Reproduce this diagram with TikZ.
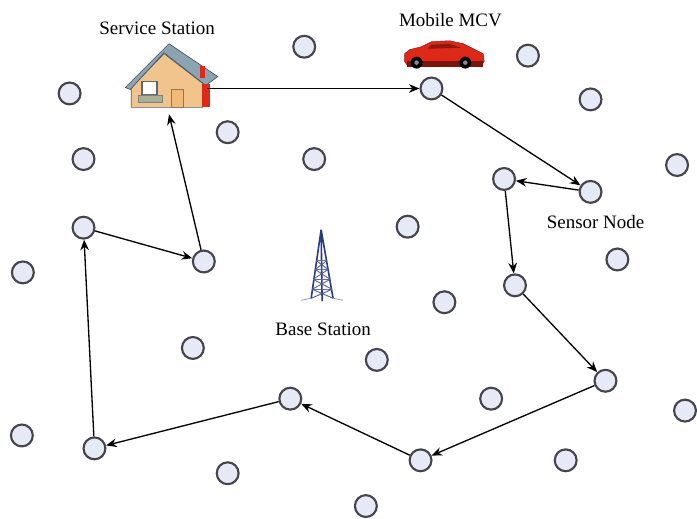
\documentclass[tikz,border=0pt]{standalone}
\usepackage{fontspec}
\setmainfont{Liberation Serif}
\newfontfamily\capfont{Liberation Serif}
\usetikzlibrary{arrows.meta}

\definecolor{nodefill}{RGB}{230,234,247}
\definecolor{nodeedge}{RGB}{68,68,74}
\definecolor{roofblue}{RGB}{140,164,178}
\definecolor{walltan}{RGB}{240,196,140}
\definecolor{carred}{RGB}{222,40,24}
\definecolor{towerblue}{RGB}{40,58,130}

\tikzset{
  sensor/.style={circle, draw=nodeedge, fill=nodefill, line width=1.6pt, inner sep=0pt, minimum size=16.5pt},
  hop/.style={-{Stealth[length=8pt,width=6.5pt]}, line width=1pt, black},
  caption/.style={anchor=base, font=\capfont\fontsize{14.3}{16}\selectfont, text=black}
}

\begin{document}
\begin{tikzpicture}[x=0.75pt,y=0.75pt,yscale=-1,xscale=1]
\path (0,0) rectangle (697,519);

%House (service station)
\draw [roofblue!60!black, fill=walltan, line width=0.5] (132,88) -- (165,54) -- (204,84) -- (204,108) -- (132,108) -- cycle ;
\draw [roofblue!50!black, fill=roofblue, line width=0.5] (126,88) -- (170,44) -- (219,77) -- (207,86) -- (165,53) -- (131,90) -- cycle ;
\fill [carred] (203,84) rectangle (211,108) ;
\fill [carred] (201,66) rectangle (206,78) ;
\draw [black!60, fill=white, line width=1.2] (143,82) rectangle (158,95) ;
\draw [black!50, fill={rgb,255:red,170;green,176;blue,150}, line width=0.8] (139,96) rectangle (163,103) ;
\draw [walltan!60!black, fill=walltan!85!orange, line width=0.6] (172,90) rectangle (184,108) ;
\coordinate (svcout) at (208,89) ;
\coordinate (svcin) at (170,115) ;

%Car (mobile charging vehicle)
\draw [carred!70!black, fill=carred, line width=0.4] (407,62) -- (407,54) -- (412,50) -- (424,47) -- (434,42) -- (452,41) -- (466,44) -- (478,50) -- (486,54) -- (487,62) -- (484,66) -- (410,66) -- cycle ;
\fill [carred!40!black, opacity=0.6] (434,45) -- (452,44) -- (464,48) -- (430,49) -- cycle ;
\fill [carred!55!black] (409,61) rectangle (486,67) ;
\fill [black] (419,63) circle [radius=6] ;
\fill [black] (468,63) circle [radius=6] ;
\fill [black!45] (419,63) circle [radius=2.3] ;
\fill [black!45] (468,63) circle [radius=2.3] ;

%Tower (base station)
\draw [towerblue, line width=1.2] (323,231) -- (313,300) (323,231) -- (335,300) (323,231) -- (324,303) ;
\draw [towerblue!75, line width=0.8] (318,262) -- (329,262) (317,271) -- (330,271) (315,281) -- (332,281) (314,291) -- (334,291) ;
\draw [towerblue!80, line width=0.7] (318,262) -- (330,271) (329,262) -- (317,271) (317,271) -- (332,281) (330,271) -- (315,281) (315,281) -- (334,291) (332,281) -- (314,291) (314,291) -- (335,300) (334,291) -- (313,300) ;
\draw [towerblue!50, line width=0.6] (303,302) -- (313,300) (335,300) -- (345,302) ;

%Sensor nodes on the tour
\node [sensor] (a) at (434,89) {};
\node [sensor] (b) at (594,193) {};
\node [sensor] (c) at (507,180) {};
\node [sensor] (d) at (518,287) {};
\node [sensor] (e) at (609,383) {};
\node [sensor] (f) at (423,463) {};
\node [sensor] (g) at (292,401) {};
\node [sensor] (h) at (95,451) {};
\node [sensor] (i) at (84,229) {};
\node [sensor] (j) at (205,263) {};

%Other sensor nodes
\node [sensor] (s1) at (306,47) {};
\node [sensor] (s2) at (531,56) {};
\node [sensor] (s3) at (70,94) {};
\node [sensor] (s4) at (594,100) {};
\node [sensor] (s5) at (229,133) {};
\node [sensor] (s6) at (84,160) {};
\node [sensor] (s7) at (316,160) {};
\node [sensor] (s8) at (681,166) {};
\node [sensor] (s9) at (410,228) {};
\node [sensor] (s10) at (621,261) {};
\node [sensor] (s11) at (23,274) {};
\node [sensor] (s12) at (447,304) {};
\node [sensor] (s13) at (194,350) {};
\node [sensor] (s14) at (379,362) {};
\node [sensor] (s15) at (494,401) {};
\node [sensor] (s16) at (689,413) {};
\node [sensor] (s17) at (22,438) {};
\node [sensor] (s18) at (229,476) {};
\node [sensor] (s19) at (569,463) {};
\node [sensor] (s20) at (368,509) {};

%Charging tour
\draw [hop] (svcout) -- (a) ;
\draw [hop] (a) -- (b) ;
\draw [hop] (b) -- (c) ;
\draw [hop] (c) -- (d) ;
\draw [hop] (d) -- (e) ;
\draw [hop] (e) -- (f) ;
\draw [hop] (f) -- (g) ;
\draw [hop] (g) -- (h) ;
\draw [hop] (h) -- (i) ;
\draw [hop] (i) -- (j) ;
\draw [hop] (j) -- (svcin) ;

% Text Node
\node [caption] (svclbl) at (158,35) {Service Station};
% Text Node
\node [caption] (mcvlbl) at (453,27) {Mobile MCV};
% Text Node
\node [caption] (snlbl) at (599,230) {Sensor Node};
% Text Node
\node [caption] (bslbl) at (325,337) {Base Station};

\end{tikzpicture}
\end{document}
